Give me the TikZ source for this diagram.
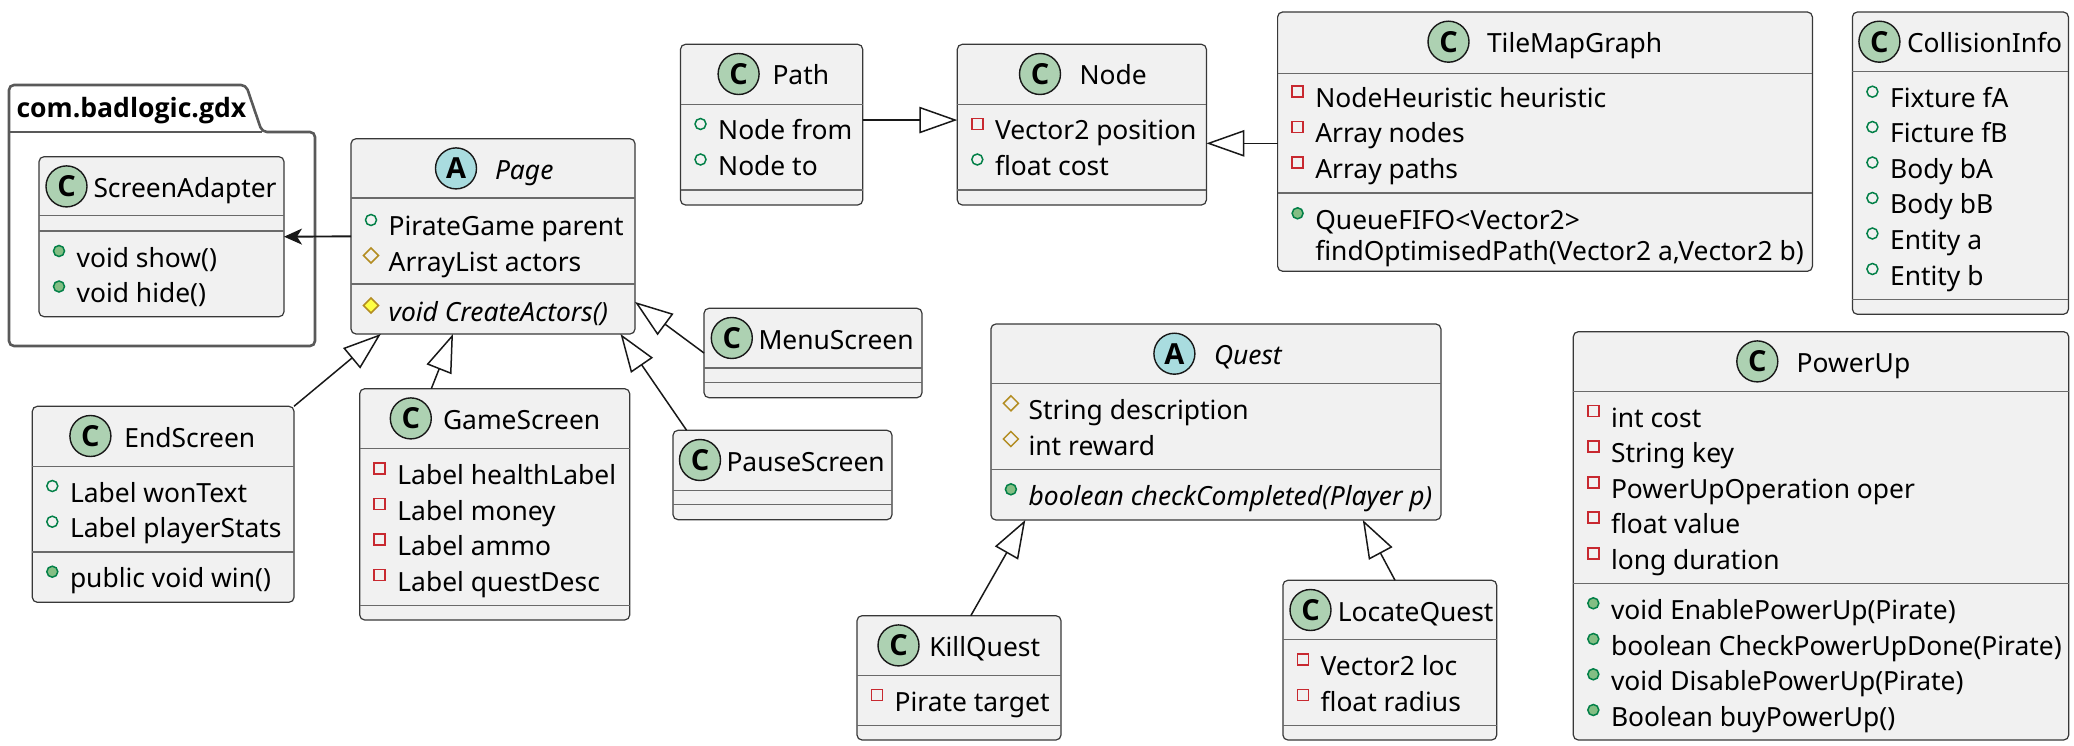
\documentclass[tikz,border=0pt]{standalone}
\usepackage{fontspec}
\setmainfont{Noto Sans}
\newfontfamily\umlbold{Open Sans}
\usetikzlibrary{shapes.geometric,arrows.meta}
\definecolor{boxfill}{HTML}{F1F1F1}
\definecolor{boxline}{HTML}{383838}
\definecolor{arrowline}{HTML}{181818}
\definecolor{sepline}{HTML}{6A6A6A}
\definecolor{spotC}{HTML}{ADD1B2}
\definecolor{spotA}{HTML}{A9DCDF}
\definecolor{publine}{HTML}{038048}
\definecolor{pubfill}{HTML}{84BE84}
\definecolor{privline}{HTML}{C82930}
\definecolor{protline}{HTML}{B38D22}
\definecolor{protfill}{HTML}{FFFF44}
\newcommand{\umlsize}{\fontsize{26.4}{26.4}\selectfont}
\tikzset{classbody/.style={draw=boxline,fill=boxfill,line width=1.2pt,rounded corners=5pt,
    outer sep=0pt,inner sep=0pt},
    divider/.style={draw=sepline,line width=1.3pt},
    spot/.style={circle,draw=arrowline,line width=1.4pt,minimum size=41pt,inner sep=0pt,
    font=\umlbold\fontsize{29}{29}\selectfont\bfseries},
    umltext/.style={anchor=base west,inner sep=0pt,outer sep=0pt,font=\umlsize,text=black},
    markshape/.style={line width=1.5pt,inner sep=0pt,outer sep=0pt},
    nomark/.style={inner sep=0pt,minimum size=1pt},
    pubfield/.style={markshape,circle,draw=publine,minimum size=11pt},
    pubmethod/.style={markshape,circle,draw=publine,fill=pubfill,minimum size=11pt},
    privfield/.style={markshape,rectangle,draw=privline,minimum size=11pt},
    protfield/.style={markshape,diamond,aspect=1,draw=protline,minimum size=15pt},
    protmethod/.style={markshape,diamond,aspect=1,draw=protline,fill=protfill,minimum size=15pt},
    extends/.style={draw=arrowline,line width=1.5pt,-{Triangle[open,length=38pt,width=26.5pt]}},
    uses/.style={draw=arrowline,line width=1.9pt,-{Stealth[length=18pt,width=16pt,inset=5pt]}}}
\newcommand{\classbox}[6]{
    \node[classbody,minimum width={(#4-#2)*1pt},minimum height={(#5-#3)*1pt}]
        (#1) at ({(#2+#4)/2},{(#3+#5)/2}) {};
    \foreach \D in {#6}
        {\draw[divider] (#1.west |- 0,\D) -- (#1.east |- 0,\D);}
}
\newcommand{\classhead}[6][spotC]{
    \node[spot,fill=#1] (#2-spot) at ([yshift=-29.7pt]#4,0 |- #2.north) {#3};
    \node[umltext] (#2-title) at ([yshift=-40.7pt]#5,0 |- #2.north) {#6};
}
\newcommand{\classrows}[2]{
    \foreach \K/\B/\T [count=\Y] in {#2}
        {\node[\K] (#1-mark\Y) at ([xshift=20pt]#1.west |- 0,{\B-15}) {};
        \node[umltext] (#1-row\Y) at ([xshift=37.7pt]#1.west |- 0,{\B+1}) {\T};}
}
\begin{document}
\begin{tikzpicture}[x=1pt,y=-1pt]
    \useasboundingbox (0,0) rectangle (2074,746);
    \draw[draw=black!65,line width=2.6pt,line join=round,rounded corners=5pt]
        (9,132) -- (9,85) -- (246,85) -- (262,132) -- (315,132) -- (315,346) -- (9,346) -- cycle;
    \draw[draw=black!65,line width=2.6pt] (9,132) -- (262,132);
    \node[umltext,font=\umlbold\fontsize{26.6}{26.6}\selectfont\bfseries] (gdx-title) at (16.5,117.7) {com.badlogic.gdx};

    \classbox{adapter}{39}{156.7}{284}{316.7}{215.7,231}
    \classhead{adapter}{C}{66.5}{93.5}{ScreenAdapter}
    \classrows{adapter}{pubmethod/266/void show(),pubmethod/301.5/void hide()}

    \classbox{page}{351}{138.7}{635}{334}{198,284}
    \classhead[spotA]{page}{A}{456}{495}{\itshape Page}
    \classrows{page}{pubfield/235/PirateGame parent,protfield/270.5/ArrayList actors,
        protmethod/320.5/\itshape void CreateActors()}

    \classbox{path}{680.5}{44.3}{862.7}{205}{104.3,190}
    \classhead{path}{C}{738.6}{772.5}{Path}
    \classrows{path}{pubfield/139/Node from,pubfield/174.5/Node to}

    \classbox{graphnode}{957.3}{44.3}{1206.4}{205}{104.3,190}
    \classhead{graphnode}{C}{1040}{1079.6}{Node}
    \classrows{graphnode}{privfield/139/Vector2 position,pubfield/174.5/float cost}

    \classbox{tilemap}{1277.6}{12}{1812.4}{271.3}{73.7,193}
    \classhead{tilemap}{C}{1448.5}{1487}{TileMapGraph}
    \classrows{tilemap}{privfield/106.7/NodeHeuristic heuristic,privfield/142/Array nodes,
        privfield/177.3/Array paths,pubmethod/228.3/QueueFIFO<Vector2>,
        nomark/259.3/{findOptimisedPath(Vector2 a,Vector2 b)}}

    \classbox{collision}{1852.4}{12}{2068.4}{314.3}{71.3,299.3}
    \classhead{collision}{C}{1879.4}{1907}{CollisionInfo}
    \classrows{collision}{pubfield/106.7/Fixture fA,pubfield/142/Ficture fB,pubfield/177.5/Body bA,
        pubfield/213/Body bB,pubfield/248.5/Entity a,pubfield/284/Entity b}

    \classbox{menu}{704}{308.3}{922}{397.7}{368,382.7}
    \classhead{menu}{C}{731.8}{758.5}{MenuScreen}

    \classbox{pause}{673}{430.3}{892}{519.7}{490.3,504.7}
    \classhead{pause}{C}{700}{726.5}{PauseScreen}

    \classbox{endscreen}{32.3}{406.3}{294}{602.3}{466.3,552}
    \classhead{endscreen}{C}{90.4}{124.4}{EndScreen}
    \classrows{endscreen}{pubfield/501/Label wonText,pubfield/536.7/Label playerStats,
        pubmethod/586.7/public void win()}

    \classbox{game}{359.7}{388.7}{629.7}{620}{448.3,605.3}
    \classhead{game}{C}{410.8}{443}{GameScreen}
    \classrows{game}{privfield/483.3/Label healthLabel,privfield/519/Label money,
        privfield/554.5/Label ammo,privfield/590/Label questDesc}

    \classbox{quest}{990.9}{324}{1440.9}{520}{383.7,469.7}
    \classhead[spotA]{quest}{A}{1174.4}{1214}{\itshape Quest}
    \classrows{quest}{protfield/418.3/String description,protfield/454/int reward,
        pubmethod/504.3/\itshape boolean checkCompleted(Player p)}

    \classbox{kill}{857}{615.7}{1061}{740}{675.3,725.7}
    \classhead{kill}{C}{898.5}{929.3}{KillQuest}
    \classrows{kill}{privfield/710/Pirate target}

    \classbox{locate}{1282.9}{580.3}{1496.7}{740}{639.7,725.7}
    \classhead{locate}{C}{1310.5}{1337.8}{LocateQuest}
    \classrows{locate}{privfield/674.7/Vector2 loc,privfield/710/float radius}

    \classbox{powerup}{1573.3}{331.7}{2068.7}{740}{391.3,583.3}
    \classhead{powerup}{C}{1757.3}{1796.7}{PowerUp}
    \classrows{powerup}{privfield/426/int cost,privfield/461.7/String key,
        privfield/497.3/PowerUpOperation oper,privfield/532.7/float value,
        privfield/568.3/long duration,pubmethod/618.3/void EnablePowerUp(Pirate),
        pubmethod/654/boolean CheckPowerUpDone(Pirate),pubmethod/689.3/void DisablePowerUp(Pirate),
        pubmethod/725/Boolean buyPowerUp()}

    \draw[uses] (page.west) -- (adapter.east);
    \draw[extends] ([yshift=4.6pt]path.east) -- ([yshift=4.6pt]graphnode.west);
    \draw[extends] ([yshift=-1.7pt]tilemap.west) -- ([yshift=-18.7pt]graphnode.east);
    \draw[extends] (endscreen.north east) -- ([xshift=29.8pt]page.south west);
    \draw[extends] ([xshift=71.6pt]game.north west) -- ([xshift=102pt]page.south west);
    \draw[extends] ([xshift=13.6pt]pause.north west) -- ([xshift=-14.5pt]page.south east);
    \draw[extends] (menu.west) -- ([yshift=-65.6pt]page.east);
    \draw[extends] ([xshift=113.8pt]kill.north west) -- ([xshift=34.4pt]quest.south west);
    \draw[extends] ([xshift=112.1pt]locate.north west) -- ([xshift=-78.1pt]quest.south east);
\end{tikzpicture}
\end{document}
